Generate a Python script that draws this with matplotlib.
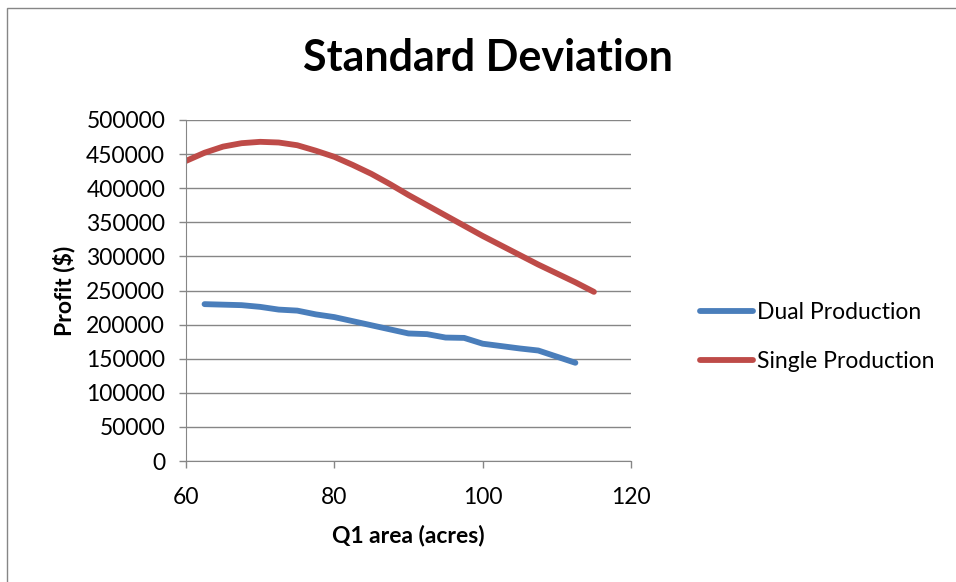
import numpy as np
import matplotlib
matplotlib.use("Agg")
import matplotlib.pyplot as plt
from matplotlib.patches import Rectangle

#  values
dual_x = [62.5, 67.5, 70, 72.5, 75, 77.5, 80, 82.5, 85, 87.5, 90, 92.5, 95, 97.5, 100, 102.5, 105, 107.5, 110, 112.5]
dual_y = [230000, 228500, 226000, 222000, 220500, 215000, 211000, 205000, 199000, 193000, 187000, 186000, 181000, 180500, 172000, 168500, 165000, 162000, 153000, 144000]

single_x = [60, 62.5, 65, 67.5, 70, 72.5, 75, 77.5, 80, 82.5, 85, 87.5, 90, 92.5, 95, 97.5, 100, 102.5, 105, 107.5, 110, 112.5, 115]
single_y = [440000, 452000, 461000, 466000, 468000, 467000, 463000, 455000, 446000, 434000, 421000, 406000, 390000, 375000, 360000, 345000, 330000, 316000, 302000, 288000, 275000, 262000, 248000]

xticks = [60, 80, 100, 120]
yticks = list(range(0, 500001, 50000))

plt.rcParams['font.family'] = ['Lato', 'DejaVu Sans']

fig = plt.figure(figsize=(9.56, 5.82), dpi=100)
fig.patches.append(Rectangle((7/956, -0.1), 1.2, 1 - 7.5/582 + 0.1, transform=fig.transFigure,
                             fill=False, edgecolor='#868686', linewidth=1))

ax = fig.add_axes([186/956, 1 - 461/582, (631 - 186)/956, (461 - 120)/582])
ax.plot(dual_x, dual_y, color='#4A7EBB', linewidth=4.2, solid_capstyle='round', solid_joinstyle='round', label='Dual Production')
ax.plot(single_x, single_y, color='#BE4B48', linewidth=4.2, solid_capstyle='round', solid_joinstyle='round', label='Single Production')

ax.set_xlim(60, 120)
ax.set_ylim(0, 500000)
ax.set_xticks(xticks)
ax.set_yticks(yticks)
ax.set_yticklabels([str(v) for v in yticks])
ax.yaxis.grid(True, color='#868686', linewidth=1)
ax.set_axisbelow(True)
for s in ['top', 'right']:
    ax.spines[s].set_visible(False)
for s in ['left', 'bottom']:
    ax.spines[s].set_color('#868686')
ax.tick_params(axis='both', colors='#868686', labelcolor='black', labelsize=16.5, length=5, width=1)
ax.tick_params(axis='y', pad=10)
ax.tick_params(axis='x', pad=14)

ax.set_xlabel('Q1 area (acres)', fontsize=16.5, fontweight='bold', labelpad=12)
ax.set_ylabel('Profit ($)', fontsize=16.5, fontweight='bold', labelpad=8)
fig.text(488/956, 1 - 58/582, 'Standard Deviation', ha='center', va='center', fontsize=31, fontweight='bold')

fig.legend(loc='center left', bbox_to_anchor=(691/956, 1 - 337/582), frameon=False,
           fontsize=16.5, handlelength=2.3, handletextpad=0.2, labelspacing=1.25, borderaxespad=0)

plt.savefig("out.png", dpi=100)
plt.close()
